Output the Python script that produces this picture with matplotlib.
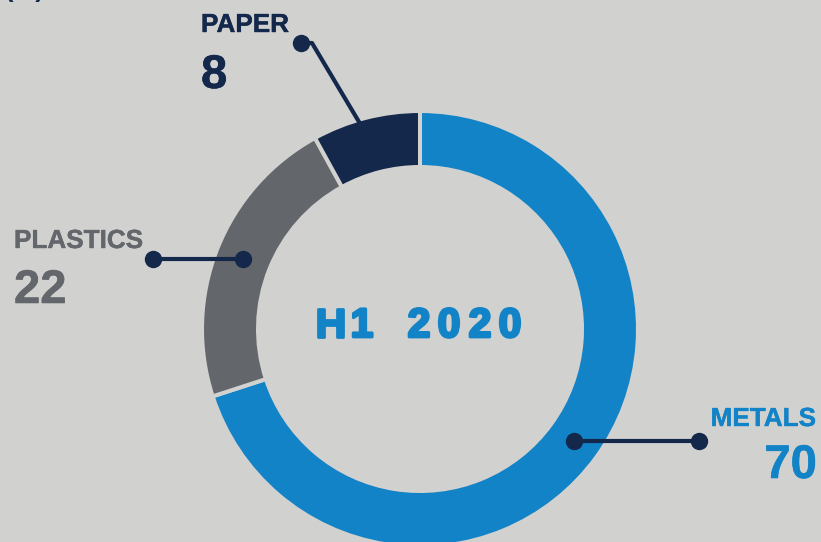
import numpy as np
import matplotlib.pyplot as plt
import matplotlib.patheffects as pe

plt.rcParams['font.family'] = ['Liberation Sans', 'DejaVu Sans']

categories = ['METALS', 'PLASTICS', 'PAPER']
values = [70, 22, 8]
colors = ['#1283c6', '#63666a', '#13284b']
title = 'H1 2020'
unit = '(%)'

bg = '#d1d1d0'
navy = '#13284b'
W, H = 821, 542


def Y(py):
    # pixel row (from top) -> data y
    return H - py


def heavy(c, lw):
    return [pe.withStroke(linewidth=lw, foreground=c)]


fig = plt.figure(figsize=(W / 100, H / 100), dpi=100, facecolor=bg)
ax = fig.add_axes([0, 0, 1, 1])
ax.set_facecolor(bg)

cx, cy = 420, Y(329)
R, w = 218, 56
ax.pie(values, colors=colors, startangle=90, counterclock=False,
       center=(cx, cy), radius=R,
       wedgeprops=dict(width=w, edgecolor=bg, linewidth=2.9), normalize=True)
ax.set_xlim(0, W)
ax.set_ylim(0, H)
ax.set_aspect('equal')
ax.axis('off')

# anchor points on the ring midline at each wedge's middle angle
frac = np.array(values) / np.sum(values)
mid = 90 - 360 * (np.cumsum(frac) - frac / 2)
rm = R - w / 2
ax_pts = [(cx + rm * np.cos(np.radians(a)), cy + rm * np.sin(np.radians(a))) for a in mid]

# leader lines
lk = dict(color=navy, lw=3, solid_capstyle='round', zorder=1)
mk = dict(color=navy, marker='o', ms=11.5, ls='none', zorder=4)

# metals
x0, y0 = ax_pts[0]
ax.plot([x0, 699], [y0, y0], **lk)
ax.plot([x0, 699], [y0, y0], **mk)
# plastics
x1, y1 = ax_pts[1]
ax.plot([x1, 153], [y1, y1], **lk)
ax.plot([x1, 153], [y1, y1], **mk)
# paper
x2, y2 = ax_pts[2]
ax.plot([x2, 312, 301], [y2, Y(43), Y(43)], color=navy, lw=3, zorder=1,
        solid_joinstyle='round')
ax.plot([301], [Y(43)], **mk)

# labels
lab = dict(fontsize=18.8, fontweight='bold', va='baseline')
num = dict(fontsize=34, fontweight='bold', va='baseline')
ax.text(201, Y(32), categories[2], color=colors[2], ha='left',
        path_effects=heavy(colors[2], 0.3), **lab)
ax.text(201, Y(88), str(values[2]), color=colors[2], ha='left',
        path_effects=heavy(colors[2], 0.4), **num)
ax.text(14, Y(248), categories[1], color=colors[1], ha='left',
        path_effects=heavy(colors[1], 0.3), **lab)
ax.text(14, Y(303), str(values[1]), color=colors[1], ha='left',
        path_effects=heavy(colors[1], 0.4), **num)
ax.text(816, Y(426), categories[0], color=colors[0], ha='right',
        path_effects=heavy(colors[0], 0.3), **lab)
ax.text(817, Y(478), str(values[0]), color=colors[0], ha='right',
        path_effects=heavy(colors[0], 0.4), **num)

# centre title, letter-spaced
centres = [330.5, 362, None, 419, 449, 480, 510]
for ch, xc in zip(title, centres):
    if xc is None:
        continue
    ax.text(xc, Y(337), ch, color=colors[0], fontsize=29.5, fontweight='bold',
            va='baseline', ha='center', path_effects=heavy(colors[0], 2.0))

# unit label cut off at the top edge
ax.text(5, Y(-3), unit, color=navy, fontsize=18.5, fontweight='bold',
        va='baseline', ha='left', clip_on=False)

fig.savefig('out.png', dpi=100, facecolor=bg)
